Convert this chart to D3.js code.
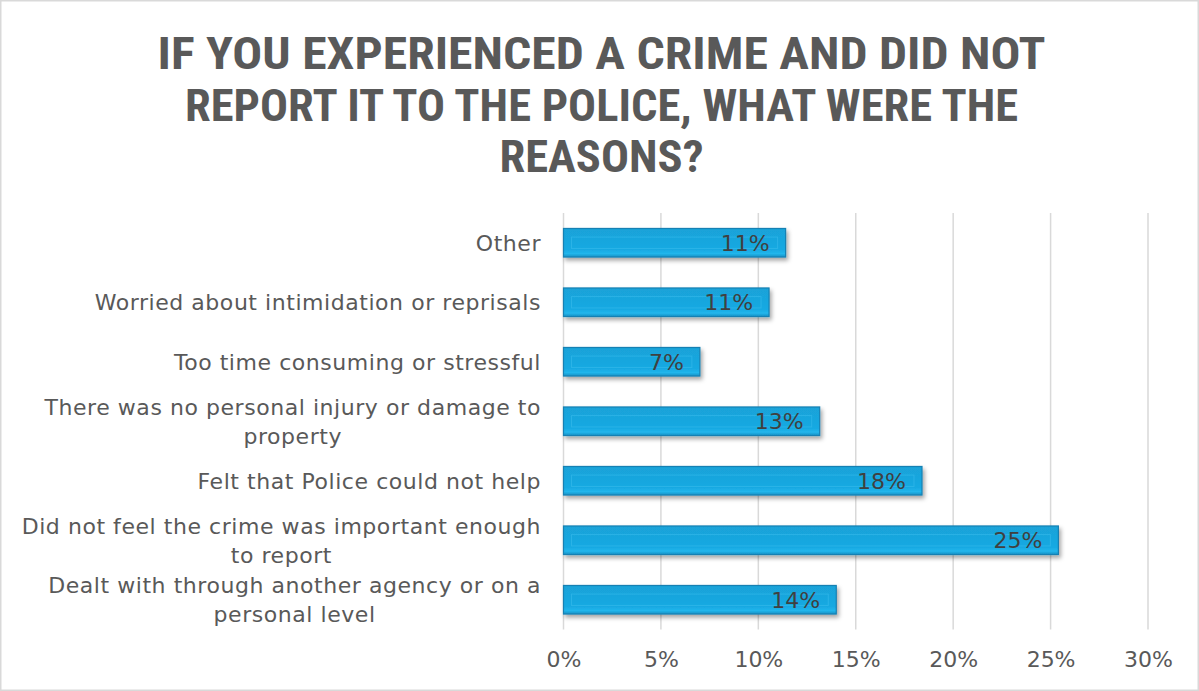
<!DOCTYPE html>
<html>
<head>
<meta charset="utf-8">
<script src="https://cdn.jsdelivr.net/npm/d3@7/dist/d3.min.js"></script>
<style>
  html, body { margin: 0; padding: 0; background: #ffffff; }
  svg { display: block; }
</style>
</head>
<body>
<svg id="chart" width="1199" height="691"></svg>
<script>
// ---- data ----
const titleLines = ["IF YOU EXPERIENCED A CRIME AND DID NOT", "REPORT IT TO THE POLICE, WHAT WERE THE", "REASONS?"];
const categories = [
  "Other",
  "Worried about intimidation or reprisals",
  "Too time consuming or stressful",
  "There was no personal injury or damage to property",
  "Felt that Police could not help",
  "Did not feel the crime was important enough to report",
  "Dealt with through another agency or on a personal level"
];
const values = [11.4, 10.55, 7.0, 13.15, 18.4, 25.4, 14.0];
const valueLabels = ["11%", "11%", "7%", "13%", "18%", "25%", "14%"];
const xTicks = [0, 5, 10, 15, 20, 25, 30];

// ---- layout ----
const svg = d3.select("#chart");
const W = 1199, H = 691;
const margin = { left: 563.5, right: 51, top: 213, bottom: 61.5 };
const font = "'Century Gothic', 'DejaVu Sans', sans-serif";
const fs = 22;
const ls = "0.55px";
const textColor = "#595959";

const defs = svg.append("defs");
const f = defs.append("filter").attr("id", "shadow").attr("x", "-5%").attr("y", "-30%").attr("width", "115%").attr("height", "180%");
f.append("feDropShadow").attr("dx", 2).attr("dy", 3).attr("stdDeviation", 2).attr("flood-color", "#000").attr("flood-opacity", 0.35);

const grad = defs.append("linearGradient").attr("id", "barGrad").attr("x1", 0).attr("y1", 0).attr("x2", 0).attr("y2", 1);
grad.append("stop").attr("offset", "0%").attr("stop-color", "#1aa2d8");
grad.append("stop").attr("offset", "75%").attr("stop-color", "#18a9e2");
grad.append("stop").attr("offset", "88%").attr("stop-color", "#22b6ec");
grad.append("stop").attr("offset", "100%").attr("stop-color", "#1790c4");

// outer border
svg.append("rect").attr("x", 0.75).attr("y", 0.75).attr("width", W - 1.5).attr("height", H - 1.5)
  .attr("fill", "#fff").attr("stroke", "#d9d9d9").attr("stroke-width", 1.5);

// title
const title = svg.append("g");
titleLines.forEach((t, i) => {
  title.append("text")
    .attr("x", W / 2 + 2).attr("y", 69 + i * 51.5)
    .attr("text-anchor", "middle")
    .attr("font-family", "'Roboto Condensed', 'Liberation Sans Narrow', Roboto, sans-serif")
    .attr("font-weight", 700)
    .attr("font-size", 44)
    .attr("fill", textColor)
    .attr("textLength", [888, 833, 204][i])
    .attr("lengthAdjust", "spacingAndGlyphs")
    .text(t);
});

const x = d3.scaleLinear().domain([0, 30]).range([margin.left, W - margin.right]);
const y = d3.scaleBand().domain(categories).range([margin.top, H - margin.bottom]).paddingInner(0.52).paddingOuter(0.26);

// gridlines
svg.append("g").selectAll("line").data(xTicks).join("line")
  .attr("x1", d => x(d)).attr("x2", d => x(d))
  .attr("y1", margin.top).attr("y2", H - margin.bottom)
  .attr("stroke", "#d9d9d9").attr("stroke-width", 1.5);

// x axis labels
const xAxis = d3.axisBottom(x).tickValues(xTicks).tickFormat(d => d + "%").tickSize(0).tickPadding(0);
const gx = svg.append("g").attr("transform", `translate(0,${H - margin.bottom + 22})`).call(xAxis);
gx.select(".domain").remove();
gx.selectAll("text").attr("font-family", font).attr("font-size", fs).attr("fill", textColor).attr("dy", "0.71em");

// bars
const bars = svg.append("g").selectAll("g").data(categories).join("g");
bars.append("rect")
  .attr("x", x(0)).attr("y", d => y(d))
  .attr("width", (d, i) => x(values[i]) - x(0))
  .attr("height", y.bandwidth())
  .attr("fill", "url(#barGrad)")
  .attr("stroke", "#1680b3").attr("stroke-width", 1.2)
  .attr("filter", "url(#shadow)");
bars.append("rect")
  .attr("x", x(0) + 8).attr("y", d => y(d) + y.bandwidth() * 0.3)
  .attr("width", (d, i) => Math.max(0, x(values[i]) - x(0) - 16))
  .attr("height", y.bandwidth() * 0.4)
  .attr("fill", "none").attr("stroke", "#33b8ea").attr("stroke-width", 1).attr("opacity", 0.7);

// value labels
bars.append("text")
  .attr("x", (d, i) => x(values[i]) - 16)
  .attr("y", d => y(d) + y.bandwidth() / 2)
  .attr("dy", "0.36em")
  .attr("text-anchor", "end")
  .attr("font-family", font).attr("font-size", fs).attr("fill", "#404040")
  .text((d, i) => valueLabels[i]);

// category labels with wrapping
const labelRight = 541;
const maxW = 530;
const lineH = 29;
const catG = svg.append("g");
categories.forEach(c => {
  const words = c.split(" ");
  const probe = catG.append("text").attr("font-family", font).attr("font-size", fs).attr("letter-spacing", ls);
  const lines = [];
  let cur = [];
  words.forEach(w => {
    cur.push(w);
    probe.text(cur.join(" "));
    if (probe.node().getComputedTextLength() > maxW && cur.length > 1) {
      cur.pop();
      lines.push(cur.join(" "));
      cur = [w];
    }
  });
  lines.push(cur.join(" "));
  const widths = lines.map(l => { probe.text(l); return probe.node().getComputedTextLength(); });
  probe.remove();
  const blockW = d3.max(widths);
  const cy = y(c) + y.bandwidth() / 2;
  const t = catG.append("text")
    .attr("font-family", font).attr("font-size", fs).attr("letter-spacing", ls).attr("fill", textColor)
    .attr("text-anchor", lines.length > 1 ? "middle" : "end");
  lines.forEach((l, i) => {
    t.append("tspan")
      .attr("x", lines.length > 1 ? labelRight - blockW / 2 : labelRight)
      .attr("y", cy + (i - (lines.length - 1) / 2) * lineH)
      .attr("dy", "0.36em")
      .text(l);
  });
});
</script>
</body>
</html>
